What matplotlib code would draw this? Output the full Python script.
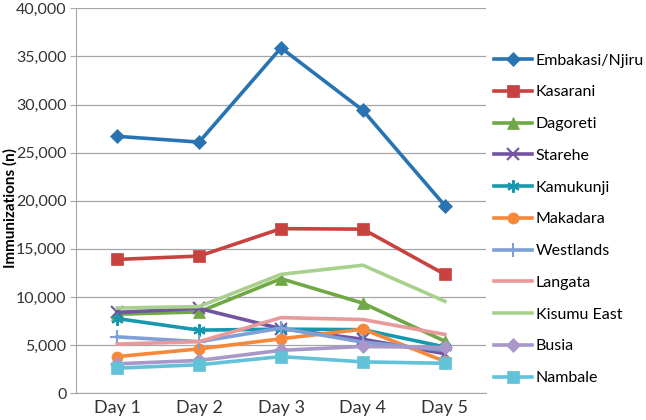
import matplotlib.pyplot as plt
from matplotlib.ticker import FuncFormatter

plt.rcParams['font.family'] = ['Lato', 'DejaVu Sans']

days = ["Day 1", "Day 2", "Day 3", "Day 4", "Day 5"]

embakasi = [26700, 26100, 35900, 29400, 19500]
kasarani = [13900, 14250, 17100, 17050, 12350]
dagoreti = [8200, 8450, 11900, 9350, 5400]
starehe = [8400, 8800, 6700, 5600, 4100]
kamukunji = [7750, 6550, 6650, 6600, 4800]
makadara = [3800, 4600, 5650, 6650, 3300]
westlands = [5850, 5350, 6750, 5300, 4450]
langata = [5100, 5350, 7850, 7650, 6100]
kisumu_east = [8850, 9000, 12350, 13300, 9550]
busia = [3050, 3400, 4450, 4850, 4750]
nambale = [2600, 2950, 3800, 3250, 3100]

series = [
    ("Embakasi/Njiru", embakasi, "#2874B2", "D", 7),
    ("Kasarani", kasarani, "#C8423F", "s", 8),
    ("Dagoreti", dagoreti, "#6FA845", "^", 8),
    ("Starehe", starehe, "#7254A0", "x", 8),
    ("Kamukunji", kamukunji, "#1798AE", (6, 2, 0), 9),
    ("Makadara", makadara, "#F6883A", "o", 8),
    ("Westlands", westlands, "#7EA0D6", "+", 10),
    ("Langata", langata, "#E89A9A", "None", 0),
    ("Kisumu East", kisumu_east, "#A9D18E", "None", 0),
    ("Busia", busia, "#A897C8", "D", 7),
    ("Nambale", nambale, "#62C3D8", "s", 8),
]

fig = plt.figure(figsize=(6.46, 4.2), dpi=100)
ax = fig.add_axes([0.118, 0.064, 0.634, 0.916])

x = list(range(len(days)))
for name, vals, color, marker, ms in series:
    ax.plot(x, vals, color=color, lw=2.6, marker=marker, markersize=ms,
            markeredgewidth=1.5 if marker in ("x", "+", (6, 2, 0)) else 0.5,
            markeredgecolor=color, label=name, zorder=3)

ax.set_xlim(-0.5, 4.5)
ax.set_ylim(0, 40000)
ax.set_yticks(range(0, 40001, 5000))
ax.yaxis.set_major_formatter(FuncFormatter(lambda v, p: f"{int(v):,}"))
ax.set_xticks(x)
ax.set_xticklabels(days)
ax.grid(axis="y", color="#A6A6A6", lw=0.9)
ax.set_axisbelow(True)
for s in ("top", "right"):
    ax.spines[s].set_visible(False)
for s in ("left", "bottom"):
    ax.spines[s].set_color("#A6A6A6")
ax.tick_params(axis="y", length=4, color="#A6A6A6", labelsize=11.5, pad=3,
               labelcolor="#333333")
ax.tick_params(axis="x", length=0, labelsize=13, pad=5, labelcolor="#333333")
ax.set_ylabel("Immunizations (n)", fontsize=11, fontweight="bold")
ax.yaxis.set_label_coords(-0.143, 0.48)

fig.legend(loc="upper left", bbox_to_anchor=(0.755, 0.888), frameon=False,
           fontsize=11.5, handlelength=2.4, labelspacing=1.1,
           handletextpad=0.2, borderaxespad=0)

fig.savefig("out.png", dpi=100)
